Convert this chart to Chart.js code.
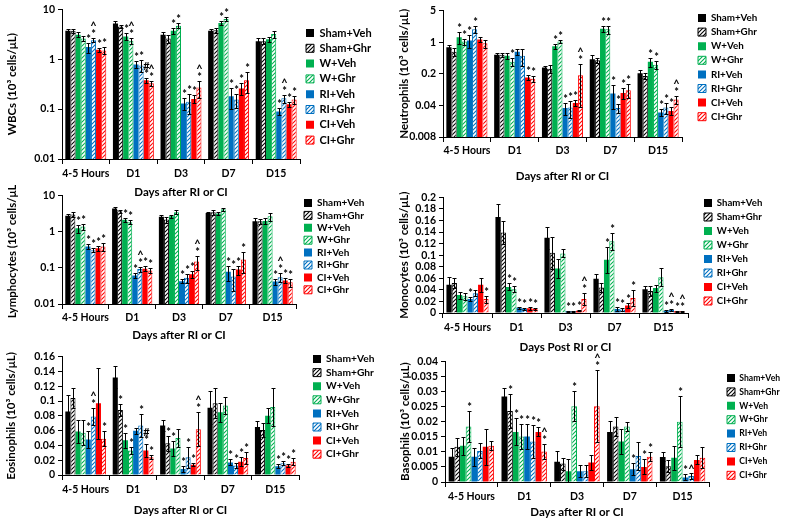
<!DOCTYPE html>
<html>
<head>
<meta charset="utf-8">
<script src="https://cdn.jsdelivr.net/npm/chart.js@4.4.1/dist/chart.umd.min.js"></script>
<style>
html, body { margin: 0; padding: 0; background: #fff; }
body { width: 785px; height: 521px; position: relative; overflow: hidden; }
.panel { position: absolute; }
</style>
</head>
<body>
<div class="panel" id="box-wbc"><canvas id="wbc"></canvas></div>
<div class="panel" id="box-neu"><canvas id="neu"></canvas></div>
<div class="panel" id="box-lym"><canvas id="lym"></canvas></div>
<div class="panel" id="box-mon"><canvas id="mon"></canvas></div>
<div class="panel" id="box-eos"><canvas id="eos"></canvas></div>
<div class="panel" id="box-bas"><canvas id="bas"></canvas></div>
<script>
// categories and groups
const categories = ['4-5 Hours', 'D1', 'D3', 'D7', 'D15'];
const groups = ['Sham+Veh', 'Sham+Ghr', 'W+Veh', 'W+Ghr', 'RI+Veh', 'RI+Ghr', 'CI+Veh', 'CI+Ghr'];

// WBCs (one row per group, one value per category)
const wbcMean = [
    [3.7, 5.2, 3.1, 3.7, 2.3],
    [3.7, 4.5, 2.6, 3.8, 2.3],
    [3.1, 2.85, 3.7, 5.3, 2.5],
    [2.6, 2.35, 4.7, 6.4, 3.2],
    [1.75, 0.78, 0.13, 0.18, 0.09],
    [2.4, 0.75, 0.14, 0.155, 0.165],
    [1.55, 0.38, 0.16, 0.26, 0.125],
    [1.5, 0.33, 0.27, 0.38, 0.155]
];
const wbcErr = [
    [0.35, 0.6, 0.35, 0.3, 0.4],
    [0.4, 0.35, 0.5, 0.4, 0.3],
    [0.35, 0.45, 0.45, 0.5, 0.3],
    [0.3, 0.35, 0.55, 0.6, 0.5],
    [0.4, 0.12, 0.035, 0.08, 0.015],
    [0.2, 0.2, 0.06, 0.05, 0.03],
    [0.15, 0.04, 0.03, 0.07, 0.015],
    [0.25, 0.035, 0.1, 0.17, 0.03]
];
const wbcMarks = [
    ['', '', '', '', ''],
    ['', '', '', '', ''],
    ['', '*', '*', '*', ''],
    ['', '*^', '*', '*', ''],
    ['*', '*', '*', '*', '*'],
    ['*^', '*', '*', '*', '*^'],
    ['*', '*#', '*', '*', '*'],
    ['*', '*^', '*^', '*', '*']
];
const wbcTicks = [0.01, 0.1, 1, 10];

// Neutrophils
const neuMean = [
    [0.78, 0.53, 0.276, 0.42, 0.206],
    [0.62, 0.53, 0.26, 0.4, 0.18],
    [1.3, 0.5, 0.82, 2.0, 0.37],
    [1.04, 0.37, 1.04, 1.95, 0.32],
    [1.1, 0.62, 0.035, 0.073, 0.028],
    [1.94, 0.5, 0.036, 0.035, 0.036],
    [1.15, 0.165, 0.045, 0.075, 0.03],
    [0.95, 0.155, 0.186, 0.087, 0.054]
];
const neuErr = [
    [0.08, 0.05, 0.03, 0.1, 0.04],
    [0.12, 0.06, 0.05, 0.06, 0.03],
    [0.4, 0.08, 0.1, 0.35, 0.09],
    [0.15, 0.07, 0.1, 0.4, 0.06],
    [0.35, 0.1, 0.01, 0.04, 0.005],
    [0.3, 0.2, 0.015, 0.008, 0.01],
    [0.15, 0.02, 0.007, 0.02, 0.006],
    [0.2, 0.02, 0.15, 0.03, 0.01]
];
const neuMarks = [
    ['', '', '', '', ''],
    ['', '', '', '', ''],
    ['*', '', '*', '*', '*'],
    ['*', '*', '*', '*', '*'],
    ['*', '', '*', '*', '*'],
    ['*', '', '*', '*', '*'],
    ['', '*', '*', '*', '*'],
    ['', '*', '*^', '*', '*^']
];
const neuTicks = [0.008, 0.04, 0.2, 1, 5];

// Lymphocytes
const lymMean = [
    [2.8, 4.4, 2.6, 3.3, 1.95],
    [3.0, 3.7, 2.2, 3.5, 1.95],
    [1.25, 2.15, 2.7, 3.2, 2.0],
    [1.4, 1.85, 3.5, 4.2, 2.7],
    [0.39, 0.062, 0.043, 0.078, 0.042],
    [0.31, 0.093, 0.053, 0.058, 0.055],
    [0.35, 0.095, 0.067, 0.09, 0.045],
    [0.39, 0.085, 0.15, 0.17, 0.04]
];
const lymErr = [
    [0.4, 0.5, 0.3, 0.3, 0.4],
    [0.5, 0.3, 0.4, 0.5, 0.3],
    [0.3, 0.3, 0.3, 0.3, 0.4],
    [0.25, 0.25, 0.4, 0.4, 0.7],
    [0.06, 0.008, 0.005, 0.035, 0.008],
    [0.04, 0.015, 0.015, 0.035, 0.015],
    [0.05, 0.015, 0.015, 0.025, 0.008],
    [0.1, 0.015, 0.06, 0.1, 0.01]
];
const lymMarks = [
    ['', '', '', '', ''],
    ['', '', '', '', ''],
    ['*', '*', '', '', ''],
    ['*', '*', '', '', ''],
    ['*', '*', '*', '*', '*'],
    ['*', '*^', '*', '*', '*^'],
    ['*', '*', '*', '*', '*'],
    ['*', '*', '*^', '*', '*']
];
const lymTicks = [0.01, 0.1, 1, 10];

// Monocytes
const monMean = [
    [0.049, 0.166, 0.130, 0.059, 0.041],
    [0.052, 0.139, 0.104, 0.044, 0.038],
    [0.031, 0.045, 0.077, 0.092, 0.043],
    [0.029, 0.041, 0.103, 0.124, 0.062],
    [0.024, 0.009, 0.003, 0.007, 0.004],
    [0.034, 0.007, 0.003, 0.006, 0.005],
    [0.049, 0.008, 0.004, 0.013, 0.003],
    [0.024, 0.007, 0.024, 0.026, 0.003]
];
const monErr = [
    [0.014, 0.022, 0.019, 0.008, 0.006],
    [0.008, 0.02, 0.028, 0.007, 0.008],
    [0.006, 0.006, 0.017, 0.022, 0.006],
    [0.006, 0.005, 0.007, 0.015, 0.015],
    [0.004, 0.002, 0.001, 0.003, 0.002],
    [0.005, 0.002, 0.001, 0.002, 0.002],
    [0.012, 0.003, 0.001, 0.005, 0.001],
    [0.006, 0.002, 0.011, 0.014, 0.001]
];
const monMarks = [
    ['', '', '', '', ''],
    ['', '', '', '', ''],
    ['', '*', '', '*', ''],
    ['', '*', '', '*', ''],
    ['*', '*', '*', '*', '*'],
    ['', '*', '*', '*', '*^'],
    ['', '*', '*', '*', '*'],
    ['*', '*', '*^', '*', '*^']
];
const monTicks = [0, 0.02, 0.04, 0.06, 0.08, 0.1, 0.12, 0.14, 0.16, 0.18, 0.2];

// Eosinophils
const eosMean = [
    [0.086, 0.132, 0.067, 0.091, 0.065],
    [0.104, 0.088, 0.043, 0.097, 0.061],
    [0.059, 0.047, 0.036, 0.085, 0.080],
    [0.057, 0.033, 0.050, 0.094, 0.092],
    [0.048, 0.060, 0.008, 0.017, 0.012],
    [0.079, 0.067, 0.024, 0.013, 0.016],
    [0.097, 0.033, 0.014, 0.018, 0.013],
    [0.049, 0.024, 0.062, 0.023, 0.018]
];
const eosErr = [
    [0.022, 0.015, 0.008, 0.022, 0.008],
    [0.014, 0.008, 0.010, 0.020, 0.009],
    [0.016, 0.010, 0.010, 0.013, 0.010],
    [0.017, 0.005, 0.012, 0.012, 0.026],
    [0.012, 0.004, 0.004, 0.004, 0.003],
    [0.012, 0.016, 0.014, 0.003, 0.003],
    [0.048, 0.009, 0.002, 0.006, 0.002],
    [0.010, 0.003, 0.023, 0.008, 0.005]
];
const eosMarks = [
    ['', '', '', '', ''],
    ['', '*', '*', '', ''],
    ['', '*', '*', '', ''],
    ['', '*', '', '', ''],
    ['*', '', '*', '*', '*'],
    ['*^', '*', '*', '*', '*'],
    ['', '*#', '*', '*', '*'],
    ['*', '*', '*^', '*', '*']
];
const eosTicks = [0, 0.02, 0.04, 0.06, 0.08, 0.1, 0.12, 0.14, 0.16];

// Basophils
const basMean = [
    [0.0084, 0.0283, 0.0067, 0.0166, 0.0083],
    [0.0117, 0.0235, 0.0061, 0.0184, 0.0052],
    [0.012, 0.0166, 0.0036, 0.0134, 0.008],
    [0.0184, 0.0151, 0.0251, 0.0184, 0.020],
    [0.0084, 0.0151, 0.0036, 0.0042, 0.0015],
    [0.0103, 0.0134, 0.0036, 0.0086, 0.002],
    [0.0117, 0.0166, 0.0065, 0.005, 0.0073],
    [0.012, 0.0101, 0.0251, 0.0084, 0.008]
];
const basErr = [
    [0.003, 0.003, 0.0035, 0.0035, 0.0015],
    [0.003, 0.0055, 0.002, 0.003, 0.002],
    [0.003, 0.0045, 0.004, 0.004, 0.004],
    [0.005, 0.004, 0.005, 0.0015, 0.0085],
    [0.003, 0.004, 0.002, 0.002, 0.001],
    [0.0025, 0.0055, 0.002, 0.0045, 0.001],
    [0.006, 0.0015, 0.0025, 0.0025, 0.0015],
    [0.0015, 0.0025, 0.012, 0.0015, 0.0035]
];
const basMarks = [
    ['', '', '', '', ''],
    ['', '*', '', '', ''],
    ['', '*', '', '', ''],
    ['*', '*', '*', '', '*'],
    ['', '*', '', '*', '*'],
    ['', '*', '', '', '^'],
    ['', '*', '', '*', ''],
    ['', '*^', '*^', '*', '']
];
const basTicks = [0, 0.005, 0.01, 0.015, 0.02, 0.025, 0.03, 0.035, 0.04];

// look of the groups
const groupColors = ['#000000', '#000000', '#00b050', '#00b050', '#0070c0', '#0070c0', '#ff0000', '#ff0000'];
const groupHatched = [false, true, false, true, false, true, false, true];

Chart.defaults.font.family = 'Lato, "DejaVu Sans", sans-serif';
Chart.defaults.font.weight = 'bold';
Chart.defaults.color = '#000';
Chart.defaults.animation = false;

function hatch(ctx, color) {
    const tile = document.createElement('canvas');
    tile.width = tile.height = 4;
    const g = tile.getContext('2d');
    g.fillStyle = '#fff';
    g.fillRect(0, 0, 4, 4);
    g.strokeStyle = color;
    g.lineWidth = 1.1;
    g.beginPath();
    g.moveTo(0, 4); g.lineTo(4, 0);
    g.moveTo(-1, 1); g.lineTo(1, -1);
    g.moveTo(3, 5); g.lineTo(5, 3);
    g.stroke();
    return ctx.createPattern(tile, 'repeat');
}

// error bars + significance marks above them
const errorBars = {
    id: 'errorBars',
    afterDatasetsDraw(chart) {
        const { ctx } = chart;
        const y = chart.scales.y;
        ctx.save();
        ctx.strokeStyle = '#000';
        ctx.fillStyle = '#000';
        ctx.lineWidth = 1;
        ctx.font = 'bold 11px Lato, sans-serif';
        ctx.textAlign = 'center';
        ctx.textBaseline = 'alphabetic';
        chart.data.datasets.forEach((ds, i) => {
            chart.getDatasetMeta(i).data.forEach((bar, j) => {
                const v = ds.data[j], e = ds.err[j];
                const top = Math.round(y.getPixelForValue(v + e)) + 0.5;
                const bot = Math.round(y.getPixelForValue(Math.max(v - e, y.min))) + 0.5;
                const x = Math.round(bar.x) + 0.5;
                ctx.beginPath();
                ctx.moveTo(x, top); ctx.lineTo(x, bot);
                ctx.moveTo(x - 2, top); ctx.lineTo(x + 2, top);
                ctx.moveTo(x - 2, bot); ctx.lineTo(x + 2, bot);
                ctx.stroke();
                [...(ds.marks[j] || '')].forEach((ch, k) => {
                    ctx.fillText(ch, x, top - 1 - k * 8);
                });
            });
        });
        ctx.restore();
    }
};

// put the legend where the figure has it
const legendSpot = {
    id: 'legendSpot',
    afterLayout(chart, args, opts) {
        const lg = chart.legend;
        if (!lg || opts.x == null) return;
        const p = lg.options.labels.padding;
        const fs = lg.options.labels.font.size;
        const dx = opts.x - (lg.left + p);
        const dy = opts.y - (lg.top + p + fs / 2);
        lg.left += dx; lg.right += dx;
        lg.top += dy; lg.bottom += dy;
    }
};

const panels = [
    { id: 'wbc', mean: wbcMean, err: wbcErr, marks: wbcMarks, ticks: wbcTicks, log: true,
      yTitle: 'WBCs (10³ cells/μL)', xTitle: 'Days after RI or CI',
      box: { x: 0, y: 0, w: 392, h: 205 }, area: { l: 62, t: 6, r: 300, b: 159 },
      yTitleX: 12, xTitleY: 192, tickPad: 3.5, legend: { x: 306, y: 33, size: 11, pad: 4.3 } },
    { id: 'neu', mean: neuMean, err: neuErr, marks: neuMarks, ticks: neuTicks, log: true,
      yTitle: 'Neutrophils (10³ cells/μL)', xTitle: 'Days after RI or CI',
      box: { x: 395, y: 0, w: 390, h: 188 }, area: { l: 443, t: 12, r: 682, b: 137 },
      yTitleX: 404, xTitleY: 176, tickPad: 2.5, legend: { x: 698, y: 18, size: 9.8, pad: 4.3 } },
    { id: 'lym', mean: lymMean, err: lymErr, marks: lymMarks, ticks: lymTicks, log: true,
      yTitle: 'Lymphocytes (10³ cells/μL)', xTitle: 'Days after RI or CI',
      box: { x: 0, y: 185, w: 392, h: 160 }, area: { l: 62, t: 197, r: 296, b: 304 },
      yTitleX: 12, xTitleY: 335, tickPad: 2.5, legend: { x: 304, y: 203, size: 10, pad: 2.4 } },
    { id: 'mon', mean: monMean, err: monErr, marks: monMarks, ticks: monTicks, log: false,
      yTitle: 'Monocytes (10³ cells/μL)', xTitle: 'Days Post RI or CI',
      box: { x: 395, y: 188, w: 390, h: 168 }, area: { l: 443, t: 198, r: 688, b: 313 },
      yTitleX: 404, xTitleY: 347, tickPad: 3.5, legend: { x: 704, y: 203, size: 9.6, pad: 4.4 } },
    { id: 'eos', mean: eosMean, err: eosErr, marks: eosMarks, ticks: eosTicks, log: false,
      yTitle: 'Eosinophils (10³ cells/μL)', xTitle: 'Days after RI or CI',
      box: { x: 0, y: 345, w: 392, h: 176 }, area: { l: 62, t: 358, r: 299, b: 475 },
      yTitleX: 11, xTitleY: 510, tickPad: 3.5, legend: { x: 313, y: 359, size: 10.2, pad: 3.4 } },
    { id: 'bas', mean: basMean, err: basErr, marks: basMarks, ticks: basTicks, log: false,
      yTitle: 'Basophils (10³ cells/μL)', xTitle: 'Days after RI or CI',
      box: { x: 395, y: 352, w: 390, h: 169 }, area: { l: 445, t: 362, r: 709, b: 482 },
      yTitleX: 405, xTitleY: 512, tickPad: 3.5, legend: { x: 727, y: 378, size: 8.6, pad: 5.3 } }
];

panels.forEach(p => {
    const holder = document.getElementById('box-' + p.id);
    holder.style.left = p.box.x + 'px';
    holder.style.top = p.box.y + 'px';
    const canvas = document.getElementById(p.id);
    canvas.width = p.box.w;
    canvas.height = p.box.h;
    const ctx = canvas.getContext('2d');

    const datasets = groups.map((g, i) => ({
        label: g,
        data: p.mean[i],
        err: p.err[i],
        marks: p.marks[i],
        backgroundColor: groupHatched[i] ? hatch(ctx, groupColors[i]) : groupColors[i],
        borderColor: groupColors[i],
        borderWidth: groupHatched[i] ? 1 : 0
    }));

    const wy = p.area.l - p.yTitleX + 11;
    const hx = p.xTitleY - p.area.b + 9;

    const chart = new Chart(ctx, {
        type: 'bar',
        data: { labels: categories, datasets: datasets },
        options: {
            responsive: false,
            devicePixelRatio: 1,
            layout: { padding: { left: 0, top: 8, right: 10, bottom: 2 } },
            datasets: { bar: { categoryPercentage: 0.86, barPercentage: 1 } },
            plugins: {
                legend: {
                    position: 'right',
                    align: 'start',
                    labels: {
                        boxWidth: 8, boxHeight: 8,
                        padding: p.legend.pad,
                        font: { size: p.legend.size, weight: 'bold' }
                    }
                },
                legendSpot: { x: p.legend.x - p.box.x, y: p.legend.y - p.box.y },
                tooltip: { enabled: false }
            },
            scales: {
                x: {
                    afterFit: s => { s.height = hx; },
                    ticks: { font: { size: 10.5 }, padding: p.tickPad, maxRotation: 0, autoSkip: false },
                    grid: { drawOnChartArea: false, tickLength: 5, color: '#000', offset: true },
                    border: { color: '#000' },
                    title: { display: true, text: p.xTitle, font: { size: 11.5 }, padding: { top: 0, bottom: 2 } }
                },
                y: {
                    type: p.log ? 'logarithmic' : 'linear',
                    min: p.ticks[0],
                    max: p.ticks[p.ticks.length - 1],
                    afterBuildTicks: s => { s.ticks = p.ticks.map(v => ({ value: v })); },
                    afterFit: s => { s.width = wy; },
                    ticks: { font: { size: 10.5 }, padding: 3, autoSkip: false,
                             callback: v => String(+(+v).toFixed(4)) },
                    grid: { drawOnChartArea: false, tickLength: 4, color: '#000' },
                    border: { color: '#000' },
                    title: { display: true, text: p.yTitle, font: { size: 11.5 }, padding: { top: 4, bottom: 0 } }
                }
            }
        },
        plugins: [errorBars, legendSpot]
    });

    // line the plot area up with the figure
    const ca = chart.chartArea;
    const pad = chart.options.layout.padding;
    pad.left += p.area.l - (p.box.x + ca.left);
    pad.top += p.area.t - (p.box.y + ca.top);
    pad.right += (p.box.x + ca.right) - p.area.r;
    pad.bottom += (p.box.y + ca.bottom) - p.area.b;
    chart.update();
});
</script>
</body>
</html>
